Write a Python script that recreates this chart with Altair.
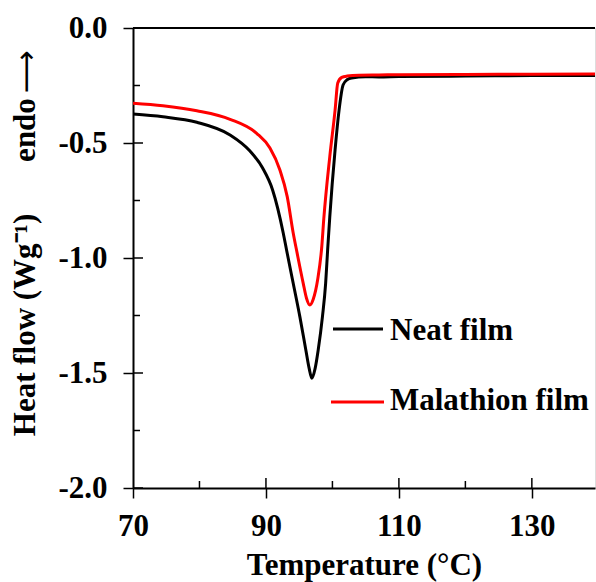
import altair as alt
import pandas as pd

# ---- data ----
neat_T = [70, 74.5, 79.6, 84.6, 87.6, 89.5, 91.0, 92.6, 93.1, 94.1, 95.1, 96.0, 96.5,
          96.9, 97.4, 97.86, 98.5, 98.98, 99.28, 99.6, 100.4, 101.0, 101.6, 102.2,
          102.9, 105, 107, 110, 120, 130, 140]
neat_H = [-0.374, -0.386, -0.410, -0.465, -0.535, -0.609, -0.704, -0.891, -0.965, -1.110,
          -1.255, -1.400, -1.480, -1.523, -1.480, -1.400, -1.255, -1.110, -0.965, -0.822,
          -0.530, -0.357, -0.248, -0.225, -0.217, -0.212, -0.213, -0.211, -0.209, -0.207,
          -0.206]

mal_T = [70, 74.5, 79.6, 84.6, 88.6, 90.6, 92.1, 93.2, 94.1, 94.7, 95.6, 96.1, 96.6,
         97.1, 97.8, 98.4, 98.7, 99.6, 100.4, 100.8, 101.4, 102.2, 104, 107, 110, 120,
         130, 140]
mal_H = [-0.327, -0.338, -0.360, -0.397, -0.458, -0.522, -0.617, -0.733, -0.891, -0.980,
         -1.109, -1.175, -1.204, -1.180, -1.090, -0.950, -0.830, -0.560, -0.357, -0.239,
         -0.215, -0.209, -0.205, -0.204, -0.203, -0.202, -0.201, -0.200]

series_names = ["Neat film", "Malathion film"]
series_colors = ["#000000", "#ff0000"]

x_major = [70, 90, 110, 130]
x_minor = [80, 100, 120]
y_major = [0.0, -0.5, -1.0, -1.5, -2.0]
y_minor = [-0.25, -0.75, -1.25, -1.75]

FONT = "Liberation Serif"
FS = 31
W, H = 462, 460

xscale = alt.Scale(domain=[70, 139.5], nice=False, zero=False)
yscale = alt.Scale(domain=[-2.0, 0.0], nice=False, zero=False)

xaxis = alt.Axis(values=x_major, title="Temperature (°C)", format="d",
                 tickSize=10, tickWidth=1.5, tickColor="black",
                 domainColor="black", domainWidth=2, labelPadding=13,
                 labelFontSize=FS, labelFont=FONT, labelFontWeight="bold", labelColor="black",
                 titleFontSize=FS, titleFont=FONT, titleFontWeight="bold", titleColor="black",
                 titleY=86, titleBaseline="alphabetic", grid=False, labelFlush=False)
yaxis = alt.Axis(values=y_major, title=None,
                 labelExpr="(datum.value < 0 ? '-' : '') + format(abs(datum.value), '.1f')",
                 tickSize=10, tickWidth=1.5, tickColor="black",
                 domainColor="black", domainWidth=2, labelPadding=16,
                 labelFontSize=FS, labelFont=FONT, labelFontWeight="bold", labelColor="black",
                 grid=False, labelFlush=False)

neat_df = pd.DataFrame({"T": neat_T, "H": neat_H})
mal_df = pd.DataFrame({"T": mal_T, "H": mal_H})

neat_line = alt.Chart(neat_df).mark_line(color=series_colors[0], strokeWidth=3,
                                          interpolate="monotone", clip=True).encode(
    x=alt.X("T:Q", scale=xscale, axis=xaxis),
    y=alt.Y("H:Q", scale=yscale, axis=yaxis),
)
mal_line = alt.Chart(mal_df).mark_line(color=series_colors[1], strokeWidth=3,
                                        interpolate="monotone", clip=True).encode(
    x=alt.X("T:Q", scale=xscale, axis=xaxis),
    y=alt.Y("H:Q", scale=yscale, axis=yaxis),
)

# inner tick marks (major ticks cross the axis, minor ticks only inside)
ymaj_in = alt.Chart(pd.DataFrame({"H": y_major})).mark_rule(color="black", strokeWidth=1.5).encode(
    y=alt.Y("H:Q", scale=yscale, axis=yaxis), x=alt.value(0), x2=alt.value(10))
ymin_in = alt.Chart(pd.DataFrame({"H": y_minor})).mark_rule(color="black", strokeWidth=1.5).encode(
    y=alt.Y("H:Q", scale=yscale, axis=yaxis), x=alt.value(0), x2=alt.value(7))
xmaj_in = alt.Chart(pd.DataFrame({"T": x_major[1:]})).mark_rule(color="black", strokeWidth=1.5).encode(
    x=alt.X("T:Q", scale=xscale, axis=xaxis), y=alt.value(H), y2=alt.value(H - 10))
xmin_in = alt.Chart(pd.DataFrame({"T": x_minor})).mark_rule(color="black", strokeWidth=1.5).encode(
    x=alt.X("T:Q", scale=xscale, axis=xaxis), y=alt.value(H), y2=alt.value(H - 7))

one = pd.DataFrame({"a": [0]})
top_line = alt.Chart(one).mark_rule(color="black", strokeWidth=2).encode(
    x=alt.value(0), x2=alt.value(W), y=alt.value(0))

# legend drawn inside plot
leg_neat_line = alt.Chart(one).mark_rule(color=series_colors[0], strokeWidth=3).encode(
    x=alt.value(200), x2=alt.value(250), y=alt.value(301))
leg_mal_line = alt.Chart(one).mark_rule(color=series_colors[1], strokeWidth=3).encode(
    x=alt.value(198), x2=alt.value(251), y=alt.value(374))
leg_neat_txt = alt.Chart(one).mark_text(text=series_names[0], font=FONT, fontWeight="bold",
                                        fontSize=FS, align="left", baseline="alphabetic",
                                        color="black").encode(x=alt.value(257), y=alt.value(312))
leg_mal_txt = alt.Chart(one).mark_text(text=series_names[1], font=FONT, fontWeight="bold",
                                       fontSize=FS, align="left", baseline="alphabetic",
                                       color="black").encode(x=alt.value(257), y=alt.value(382))

# y axis title pieces (rotated)
ytitle = alt.Chart(one).mark_text(text="Heat flow (Wg⁻¹)", font=FONT, fontWeight="bold",
                                  fontSize=FS, angle=270, align="center", baseline="alphabetic",
                                  color="black").encode(x=alt.value(-98), y=alt.value(297))
yendo = alt.Chart(one).mark_text(text="endo", font=FONT, fontWeight="bold",
                                 fontSize=FS, angle=270, align="center", baseline="alphabetic",
                                 color="black").encode(x=alt.value(-98), y=alt.value(102))
yarrow = alt.Chart(one).mark_text(text="⟶", font="DejaVu Sans", fontWeight="normal",
                                  fontSize=30, angle=270, align="center", baseline="middle",
                                  color="black").encode(x=alt.value(-106), y=alt.value(44))

chart = alt.layer(
    neat_line, mal_line, ymaj_in, ymin_in, xmaj_in, xmin_in, top_line,
    leg_neat_line, leg_mal_line, leg_neat_txt, leg_mal_txt, ytitle, yendo, yarrow
).properties(
    width=W, height=H,
    padding={"left": 133, "top": 28, "right": 1, "bottom": 94},
    autosize=alt.AutoSizeParams(type="none"),
).configure_view(stroke="#b0b0b0", strokeWidth=1).configure(background="white")

chart.save("out.html", embed_options={"renderer": "svg", "actions": False})
